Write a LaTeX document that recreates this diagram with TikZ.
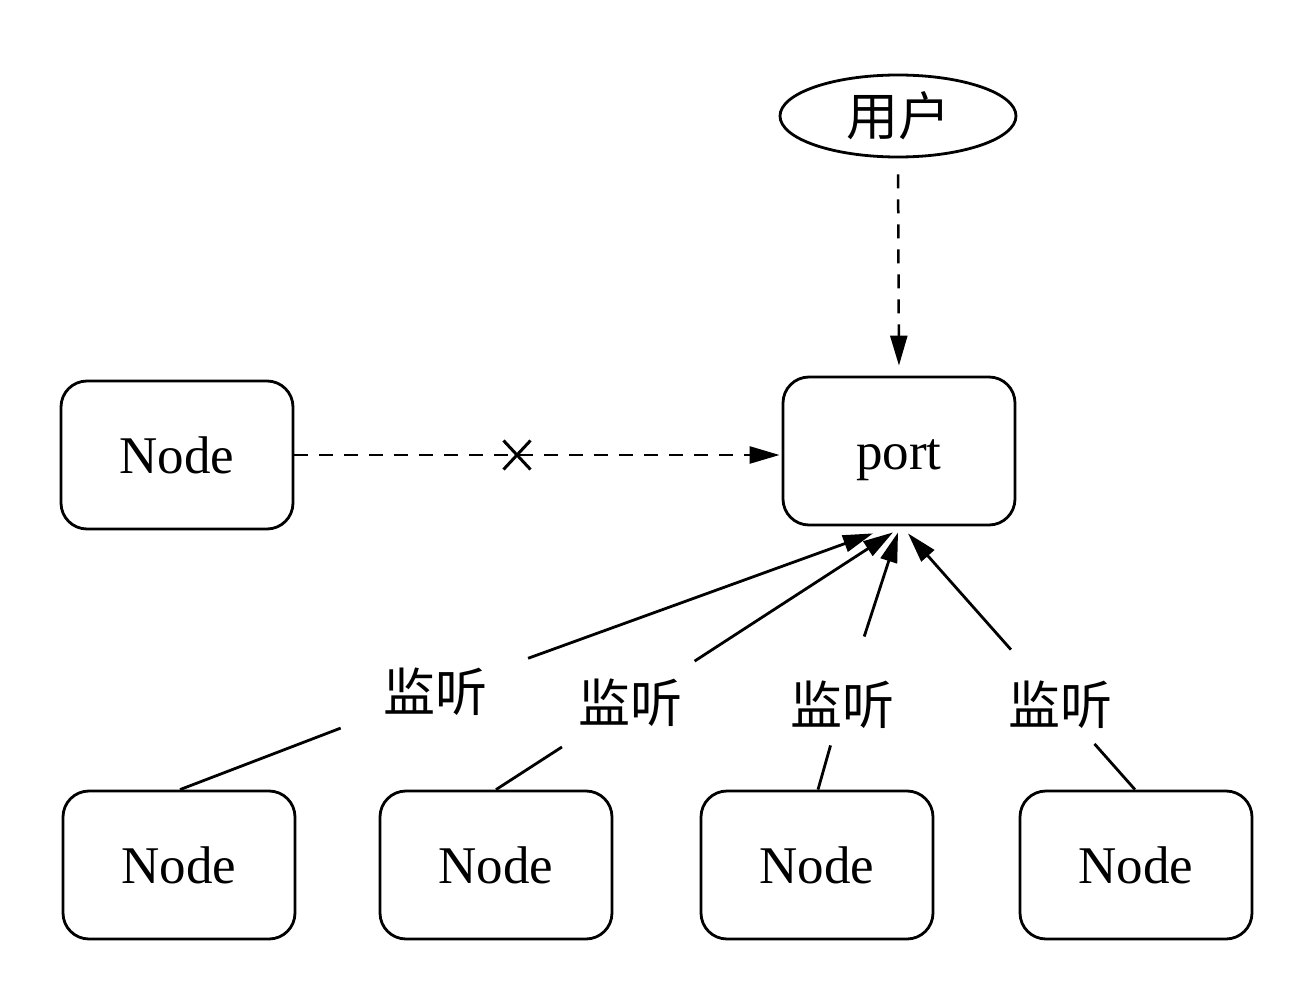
\documentclass[tikz,border=0pt]{standalone}
\usepackage{fontspec}
\setmainfont{Liberation Serif}
\newfontfamily\cjk{Noto Sans CJK SC}
\usetikzlibrary{arrows.meta,shapes.geometric,shapes.misc,calc}
\begin{document}
\begin{tikzpicture}[x=1pt,y=-1pt,
  box/.style={draw,line width=2.8pt,rounded corners=26pt,minimum width=232pt,minimum height=148pt,text height=36pt,text depth=0pt,font=\fontsize{53}{60}\selectfont},
  lbl/.style={font=\cjk\fontsize{52}{58}\selectfont,inner sep=0pt},
  tip/.style={-{Triangle[length=30pt,width=17pt]}},
  conn/.style={line width=2.8pt},
  dsh/.style={line width=2.5pt,dash pattern=on 14pt off 11pt}]
\useasboundingbox (0,0) rectangle (1312,1000);
\node[draw,ellipse,line width=2.8pt,minimum width=236pt,minimum height=82pt,font=\cjk\fontsize{52}{58}\selectfont] (user) at (898,116) {用户};
\node[box] (port) at (899,451) {port};
\node[box] (lnode) at (177,455) {Node};
\node[box] (n1) at (179,865) {Node};
\node[box] (n2) at (496,865) {Node};
\node[box] (n3) at (817,865) {Node};
\node[box] (n4) at (1136,865) {Node};
% labels
\node[lbl] (l1) at (435,692) {监听};
\node[lbl] (l2) at (630,703) {监听};
\node[lbl] (l3) at (842,705) {监听};
\node[lbl] (l4) at (1060,705) {监听};
% dashed arrows
\draw[dsh,tip,shorten <=16pt,shorten >=10pt] (user.south) -- (port.north);
\draw[dsh,tip,shorten >=2pt] (lnode.east) -- (lnode.east -| port.west);
\node[cross out,draw,line width=3pt,minimum width=24pt,minimum height=26pt,inner sep=0pt] (x) at (517,455) {};
% solid edges
\draw[conn,shorten >=101pt] ([xshift=1pt]n1.north) -- (l1.center);
\draw[conn,tip,shorten <=99pt] (l1.center) -- ([xshift=-26pt,yshift=-7pt]port.south);
\draw[conn,shorten >=81pt] (n2.north) -- (l2.center);
\draw[conn,tip,shorten <=77pt] (l2.center) -- ([xshift=-6pt,yshift=-6pt]port.south);
\draw[conn,shorten >=42pt] ([xshift=1pt]n3.north) -- (l3.center);
\draw[conn,tip,shorten <=72pt] (l3.center) -- ([xshift=-1pt,yshift=-6pt]port.south);
\draw[conn,shorten >=52pt] ([xshift=-1pt]n4.north) -- (l4.center);
\draw[conn,tip,shorten <=74pt] (l4.center) -- ([xshift=9pt,yshift=-7pt]port.south);
\end{tikzpicture}
\end{document}
